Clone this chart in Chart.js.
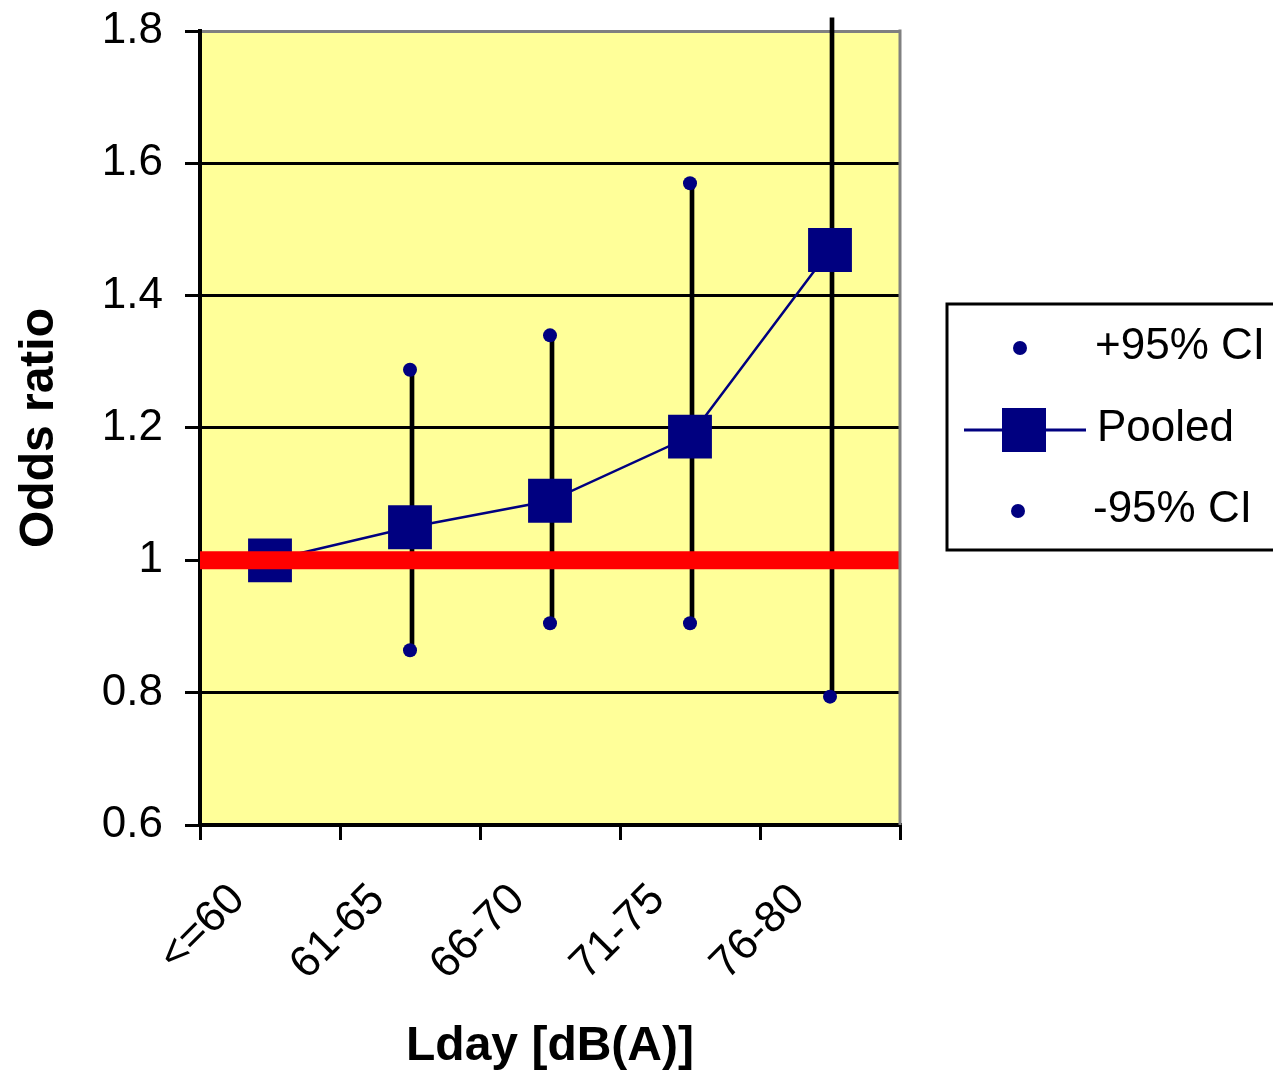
<!DOCTYPE html>
<html>
<head>
<meta charset="utf-8">
<script src="https://cdn.jsdelivr.net/npm/chart.js@4"></script>
<style>
  html, body { margin: 0; padding: 0; background: #fff; }
  #wrap { width: 1273px; height: 1076px; }
</style>
</head>
<body>
<div id="wrap"><canvas id="chart"></canvas></div>
<script>
'use strict';

// values
const categories = ['<=60', '61-65', '66-70', '71-75', '76-80'];
const pooled = [1.0, 1.05, 1.09, 1.187, 1.469];
const upperCI = [null, 1.288, 1.34, 1.57, 1.82];   // last one runs past the top of the axis
const lowerCI = [null, 0.864, 0.905, 0.905, 0.794];
const referenceLine = [1, 1, 1, 1, 1];
const yMin = 0.6, yMax = 1.8, yStep = 0.2;

const FONT = "'Liberation Sans', Arial, sans-serif";
const NAVY = '#000080';

// high-low lines as thin floating bars
const ciRanges = categories.map((c, i) => lowerCI[i] == null ? null : [lowerCI[i], upperCI[i]]);

// yellow plot area, grey right border and the boxed legend
const frame = {
    id: 'frame',
    beforeDraw(chart) {
        const { ctx, chartArea: a } = chart;
        ctx.save();
        ctx.fillStyle = '#FFFF99';
        ctx.fillRect(a.left, a.top, a.right - a.left, a.bottom - a.top);
        ctx.restore();
    },
    afterDraw(chart) {
        const { ctx, chartArea: a } = chart;
        ctx.save();
        ctx.strokeStyle = '#808080';
        ctx.lineWidth = 3;
        ctx.beginPath();
        ctx.moveTo(a.right, a.top - 1.5);
        ctx.lineTo(a.right, a.bottom);
        ctx.stroke();

        // legend
        const bx = a.right + 47, by = 304;
        ctx.strokeStyle = '#000';
        ctx.lineWidth = 3;
        ctx.strokeRect(bx, by, 400, 246);

        ctx.font = '44px ' + FONT;
        ctx.fillStyle = '#000';
        ctx.textBaseline = 'middle';
        ctx.textAlign = 'left';

        // +95% CI
        ctx.fillStyle = NAVY;
        ctx.beginPath();
        ctx.arc(bx + 73, by + 44, 7, 0, Math.PI * 2);
        ctx.fill();
        ctx.fillStyle = '#000';
        ctx.fillText('+95% CI', bx + 148, by + 43);

        // Pooled
        ctx.strokeStyle = NAVY;
        ctx.lineWidth = 3;
        ctx.beginPath();
        ctx.moveTo(bx + 17, by + 126);
        ctx.lineTo(bx + 139, by + 126);
        ctx.stroke();
        ctx.fillStyle = NAVY;
        ctx.fillRect(bx + 55, by + 104, 44, 44);
        ctx.fillStyle = '#000';
        ctx.fillText('Pooled', bx + 150, by + 125);

        // -95% CI
        ctx.fillStyle = NAVY;
        ctx.beginPath();
        ctx.arc(bx + 71, by + 207, 7, 0, Math.PI * 2);
        ctx.fill();
        ctx.fillStyle = '#000';
        ctx.fillText('-95% CI', bx + 146, by + 206);
        ctx.restore();
    }
};

const chart = new Chart(document.getElementById('chart'), {
    data: {
        labels: categories,
        datasets: [
            {
                type: 'line',
                label: 'reference',
                data: referenceLine,
                xAxisID: 'x2',
                borderColor: '#FF0000',
                borderWidth: 18,
                pointRadius: 0,
                order: 1
            },
            {
                type: 'line',
                label: 'Pooled',
                data: pooled,
                borderColor: NAVY,
                borderWidth: 2.5,
                backgroundColor: NAVY,
                pointStyle: 'rect',
                pointRadius: 31,
                pointBorderWidth: 0,
                tension: 0,
                order: 2
            },
            {
                type: 'line',
                label: '+95% CI',
                data: upperCI,
                showLine: false,
                pointStyle: 'circle',
                pointRadius: 7,
                pointBorderWidth: 0,
                backgroundColor: NAVY,
                order: 3
            },
            {
                type: 'line',
                label: '-95% CI',
                data: lowerCI,
                showLine: false,
                pointStyle: 'circle',
                pointRadius: 7,
                pointBorderWidth: 0,
                backgroundColor: NAVY,
                order: 3
            },
            {
                type: 'bar',
                label: 'range',
                data: ciRanges,
                backgroundColor: '#000',
                barThickness: 4,
                clip: false,
                order: 4
            }
        ]
    },
    options: {
        responsive: true,
        maintainAspectRatio: false,
        animation: false,
        layout: { padding: { top: 30, right: 373, left: 0, bottom: 0 } },
        plugins: {
            legend: { display: false },
            tooltip: { enabled: false }
        },
        scales: {
            x: {
                type: 'category',
                offset: true,
                afterFit(scale) { scale.height = 251; },
                grid: {
                    offset: true,
                    drawOnChartArea: false,
                    drawTicks: true,
                    tickLength: 15,
                    color: '#000',
                    lineWidth: 3
                },
                border: { color: '#000', width: 4 },
                ticks: {
                    color: '#000',
                    font: { family: FONT, size: 44 },
                    maxRotation: 45,
                    minRotation: 45,
                    padding: 34,
                    labelOffset: -32,
                    autoSkip: false
                },
                title: {
                    display: true,
                    text: 'Lday [dB(A)]',
                    color: '#000',
                    font: { family: FONT, size: 48, weight: 'bold', lineHeight: 1.2 },
                    padding: { top: 0, bottom: 0 }
                }
            },
            x2: {
                type: 'category',
                offset: false,
                display: false
            },
            y: {
                min: yMin,
                max: yMax,
                afterFit(scale) {
                    scale.width = 200;
                    scale.paddingTop = 0;
                    scale.paddingBottom = 0;
                },
                grid: {
                    color: (c) => (c.tick && Math.abs(c.tick.value - yMax) < 1e-6) ? '#808080' : '#000',
                    tickColor: '#000',
                    lineWidth: 3,
                    tickLength: 15
                },
                border: { color: '#000', width: 4 },
                ticks: {
                    stepSize: yStep,
                    color: '#000',
                    font: { family: FONT, size: 44 },
                    padding: 22,
                    callback: (v) => String(+Number(v).toFixed(1))
                },
                title: {
                    display: true,
                    text: 'Odds ratio',
                    color: '#000',
                    font: { family: FONT, size: 48, weight: 'bold', lineHeight: 1.2 },
                    padding: { top: 11, bottom: 0 }
                }
            }
        }
    },
    plugins: [frame]
});
</script>
</body>
</html>
